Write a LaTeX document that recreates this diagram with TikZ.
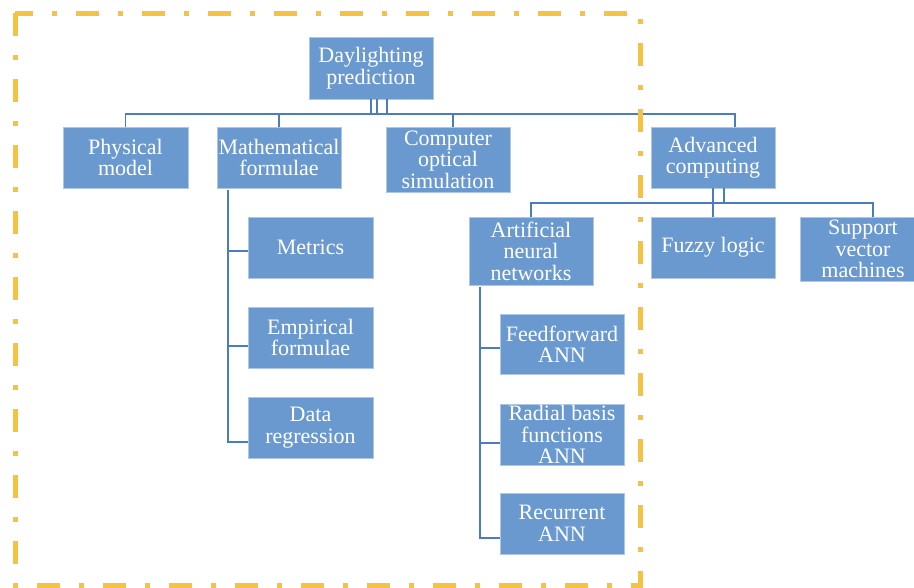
\documentclass[tikz,border=0pt]{standalone}
\usepackage{fontspec}
\setmainfont{Liberation Serif}
\definecolor{boxblue}{HTML}{6A99CF}
\definecolor{linkblue}{HTML}{4A7EBB}
\definecolor{frameyellow}{HTML}{F5C242}
\begin{document}
\begin{tikzpicture}[x=1pt,y=-1pt,
  box/.style={fill=boxblue, draw=boxblue!55!white, line width=0.8pt, text=white,
    font=\fontsize{22}{21.5}\selectfont, align=center, inner sep=0pt,
    minimum width=124pt, minimum height=61pt},
  conn/.style={draw=linkblue, line width=1.5pt},
  frame/.style={draw=frameyellow, line width=5pt, dash pattern=on 23pt off 19pt on 5pt off 19pt}]
\useasboundingbox (0,0) rectangle (914,587);

% level 0
\node[box, minimum height=62pt] (top) at (371,68) {Daylighting\\prediction};
% level 1
\node[box, minimum width=125pt] (phys) at (125.5,157.5) {Physical\\model};
\node[box] (math) at (279,157.5) {Mathematical\\formulae};
\node[box, minimum height=65pt] (comp) at (448,159.5) {Computer\\optical\\simulation};
\node[box] (adv) at (713,157.5) {Advanced\\computing};
% level 2
\node[box, minimum height=68pt] (ann) at (531,251) {Artificial\\neural\\networks};
\node[box] (fuzzy) at (713,247.5) {Fuzzy logic};
\node[box, minimum width=126pt, minimum height=64pt] (svm) at (863,249) {Support\\vector\\machines};
\node[box, minimum width=125pt] (metrics) at (310.5,247.5) {Metrics};
\node[box, minimum width=125pt] (emp) at (310.5,337.5) {Empirical\\formulae};
\node[box, minimum width=125pt] (data) at (310.5,427.5) {Data\\regression};
% level 3
\node[box, minimum height=60pt] (ff) at (562,344) {Feedforward\\ANN};
\node[box] (rbf) at (562,434.5) {Radial basis\\functions\\ANN};
\node[box] (rec) at (562,523.5) {Recurrent\\ANN};

% coordinates for buses
\coordinate (bus1) at (371,114);
\coordinate (bus1b) at (377,114);
\coordinate (bus1c) at (387,114);
\coordinate (advdrop) at (735,127);
\coordinate (compdrop) at (453,127);
\coordinate (bus2) at (713,203);
\coordinate (bus2b) at (724,203);
\coordinate (mtr) at (228,190);
\coordinate (mb1) at (228,251);
\coordinate (mb2) at (228,346);
\coordinate (mb3) at (228,442);
\coordinate (atr) at (480,287);
\coordinate (ab1) at (480,348);
\coordinate (ab2) at (480,443);
\coordinate (ab3) at (480,538);

% level 0 -> level 1
\draw[conn] (top.south) -- (bus1);
\draw[conn] (top.south -| bus1b) -- (bus1b);
\draw[conn] (top.south -| bus1c) -- (bus1c);
\draw[conn] (phys.north) |- (bus1) -| (advdrop);
\draw[conn] (math.north) -- (math.north |- bus1);
\draw[conn] (compdrop) -- (compdrop |- bus1);

% advanced -> children
\draw[conn] (adv.south) -- (fuzzy.north);
\draw[conn] (adv.south -| bus2b) -- (bus2b);
\draw[conn] (ann.north) |- (bus2) -| (svm.north -| 873,0);
\draw[conn] (svm.north -| 873,0) ++(0,0);

% mathematical -> children
\draw[conn] (mtr) -- (mb3) -- (mb3 -| data.west);
\draw[conn] (mb1) -- (mb1 -| metrics.west);
\draw[conn] (mb2) -- (mb2 -| emp.west);

% ANN -> children
\draw[conn] (atr) -- (ab3) -- (ab3 -| rec.west);
\draw[conn] (ab1) -- (ab1 -| ff.west);
\draw[conn] (ab2) -- (ab2 -| rbf.west);

% frame
\draw[frame] (15,13) rectangle (640,585);
\end{tikzpicture}
\end{document}
